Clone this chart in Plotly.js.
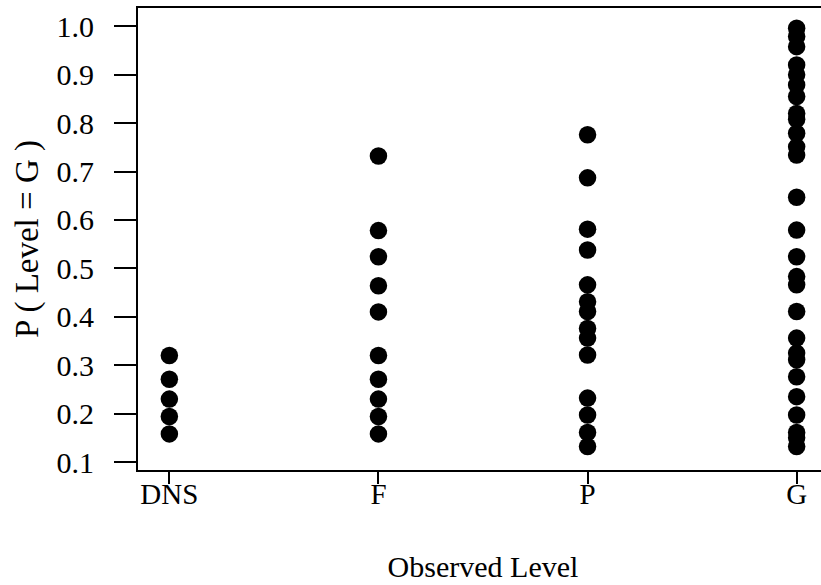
<!DOCTYPE html>
<html>
<head>
<meta charset="utf-8">
<script src="https://cdn.plot.ly/plotly-3.0.1.min.js"></script>
<style>
html,body{margin:0;padding:0;overflow:hidden;background:#fff;}
#chart{width:830px;height:585px;}
</style>
</head>
<body>
<div id="chart"></div>
<script>
var categories = ['DNS', 'F', 'P', 'G'];
var dnsValues = [0.320, 0.271, 0.230, 0.194, 0.158];
var fValues = [0.732, 0.578, 0.524, 0.464, 0.410, 0.320, 0.271, 0.230, 0.194, 0.158];
var pValues = [0.776, 0.687, 0.581, 0.538, 0.466, 0.431, 0.411, 0.376, 0.356, 0.321, 0.232, 0.197, 0.161, 0.132];
var gValues = [0.996, 0.979, 0.958, 0.920, 0.900, 0.879, 0.855, 0.820, 0.808, 0.779, 0.751, 0.734, 0.647, 0.579, 0.524, 0.483, 0.466, 0.411, 0.356, 0.325, 0.311, 0.276, 0.235, 0.197, 0.161, 0.150, 0.132];
var yTickVals = [0.1, 0.2, 0.3, 0.4, 0.5, 0.6, 0.7, 0.8, 0.9, 1.0];
var yTickText = ['0.1', '0.2', '0.3', '0.4', '0.5', '0.6', '0.7', '0.8', '0.9', '1.0'];

var groups = [dnsValues, fValues, pValues, gValues];
var xs = [], ys = [];
groups.forEach(function (vals, i) {
  vals.forEach(function (v) { xs.push(categories[i]); ys.push(v); });
});

var fontFam = 'Liberation Serif, Times New Roman, serif';
var trace = {
  type: 'scatter', mode: 'markers', x: xs, y: ys,
  marker: {color: '#000', size: 17.5, line: {width: 0}},
  hoverinfo: 'skip', cliponaxis: false
};

var layout = {
  width: 830, height: 585,
  margin: {l: 138, r: 2, t: 8, b: 115},
  paper_bgcolor: '#fff', plot_bgcolor: '#fff',
  showlegend: false,
  font: {family: fontFam, color: '#000', size: 29},
  xaxis: {
    type: 'category', categoryorder: 'array', categoryarray: categories,
    range: [-0.15, 3.15],
    showgrid: false, zeroline: false,
    showline: true, mirror: true, linecolor: '#000', linewidth: 2,
    ticks: 'outside', ticklen: 12, tickwidth: 2, tickcolor: '#000',
    ticklabelstandoff: -15,
    tickfont: {family: fontFam, size: 29, color: '#000'},
    title: {text: 'Observed Level', font: {family: fontFam, size: 30, color: '#000'}, standoff: 47}
  },
  yaxis: {
    range: [0.0835, 1.0378],
    tickvals: yTickVals, ticktext: yTickText,
    showgrid: false, zeroline: false,
    showline: true, mirror: true, linecolor: '#000', linewidth: 2,
    ticks: 'outside', ticklen: 22, tickwidth: 2, tickcolor: '#000',
    ticklabelstandoff: 14,
    tickfont: {family: fontFam, size: 30, color: '#000'},
    title: {text: 'P ( Level = G )', font: {family: fontFam, size: 33, color: '#000'}, standoff: 8}
  }
};

Plotly.newPlot('chart', [trace], layout, {displayModeBar: false, staticPlot: true});
</script>
</body>
</html>
